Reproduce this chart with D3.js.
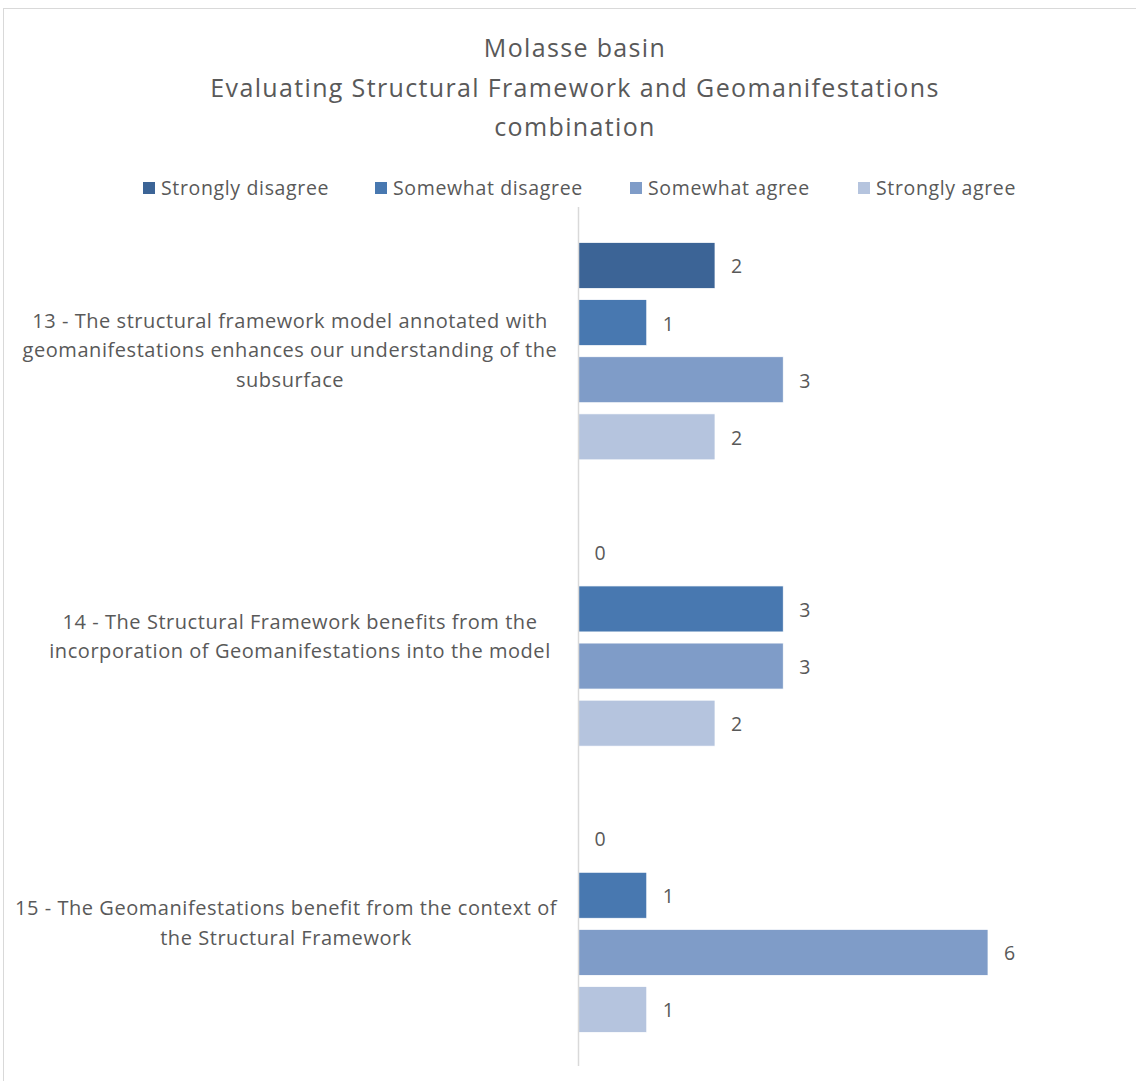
<!DOCTYPE html>
<html>
<head>
<meta charset="utf-8">
<script src="https://cdn.jsdelivr.net/npm/d3@7"></script>
<style>
  html, body { margin: 0; padding: 0; background: #fff; }
  svg { display: block; }
  text { font-family: "Open Sans", Lato, sans-serif; fill: #595959; }
</style>
</head>
<body>
<svg id="chart" width="1136" height="1081"></svg>
<script>
// Survey questions (one group of bars each)
const categories = [
  "13 - The structural framework model annotated with geomanifestations enhances our understanding of the subsurface",
  "14 - The Structural Framework benefits from the incorporation of Geomanifestations into the model",
  "15 - The Geomanifestations benefit from the context of the Structural Framework"
];
// Wrapped lines of each question label
const categoryLines = [
  ["13 - The structural framework model annotated with", "geomanifestations enhances our understanding of the", "subsurface"],
  ["14 - The Structural Framework benefits from the", "incorporation of Geomanifestations into the model"],
  ["15 - The Geomanifestations benefit from the context of", "the Structural Framework"]
];
// Answer options (series)
const seriesNames = ["Strongly disagree", "Somewhat disagree", "Somewhat agree", "Strongly agree"];
const seriesColors = ["#3c6496", "#4878b0", "#7f9cc8", "#b5c4de"];
// Response counts per series, in category order
const stronglyDisagree = [2, 0, 0];
const somewhatDisagree = [1, 3, 1];
const somewhatAgree = [3, 3, 6];
const stronglyAgree = [2, 2, 1];
const seriesValues = [stronglyDisagree, somewhatDisagree, somewhatAgree, stronglyAgree];

const titleLines = ["Molasse basin", "Evaluating Structural Framework and Geomanifestations", "combination"];

const svg = d3.select("#chart");

// chart frame
svg.append("rect")
  .attr("x", 3.5).attr("y", 8.5)
  .attr("width", 1140).attr("height", 1090)
  .attr("fill", "none").attr("stroke", "#d9d9d9").attr("stroke-width", 1);

// title
svg.append("g").selectAll("text").data(titleLines).join("text")
  .attr("x", 575).attr("y", (d, i) => 57 + i * 39.5)
  .attr("text-anchor", "middle")
  .style("font-size", "25px")
  .style("letter-spacing", "1.35px")
  .text(d => d);

// plot area
const plotTop = 207, plotBottom = 1066, axisX = 578.5;
const x = d3.scaleLinear().domain([0, 6]).range([axisX, axisX + 409.5]);
const y0 = d3.scaleBand().domain(categories).range([plotTop, plotBottom]).paddingInner(0).paddingOuter(0);
const y1 = d3.scaleBand().domain(seriesNames).range([35.5, y0.bandwidth() - 33.5]).paddingInner(0.195).paddingOuter(0);

// legend
const legendX = [143, 375, 630, 858];
const legend = svg.append("g").selectAll("g").data(seriesNames).join("g")
  .attr("transform", (d, i) => `translate(${legendX[i]},188)`);
legend.append("rect").attr("x", 0).attr("y", -6).attr("width", 12).attr("height", 12)
  .attr("fill", (d, i) => seriesColors[i]);
legend.append("text").attr("x", 18).attr("y", 7)
  .style("font-size", "19.5px")
  .style("letter-spacing", "0.65px")
  .text(d => d);

// bars and value labels
const groups = svg.append("g").selectAll("g").data(categories).join("g")
  .attr("transform", d => `translate(0,${y0(d)})`);

groups.each(function(cat, ci) {
  const g = d3.select(this);
  const rows = seriesNames.map((s, si) => ({ s, si, v: seriesValues[si][ci] }));
  g.selectAll("rect").data(rows).join("rect")
    .attr("x", x(0))
    .attr("y", d => y1(d.s))
    .attr("width", d => x(d.v) - x(0))
    .attr("height", y1.bandwidth())
    .attr("fill", d => seriesColors[d.si])
    .attr("stroke", "#fff").attr("stroke-width", 0.75);
  g.selectAll("text.val").data(rows).join("text")
    .attr("class", "val")
    .attr("x", d => x(d.v) + 16)
    .attr("y", d => y1(d.s) + y1.bandwidth() / 2 + 8)
    .style("font-size", "19.5px")
    .text(d => d.v);
});

// category axis line
svg.append("line")
  .attr("x1", axisX).attr("x2", axisX)
  .attr("y1", plotTop).attr("y2", plotBottom)
  .attr("stroke", "#d9d9d9").attr("stroke-width", 1.5);

// category labels
const labelCenters = [290, 300, 286];
groups.each(function(cat, ci) {
  const lines = categoryLines[ci];
  const mid = y0.bandwidth() / 2;
  const lh = 29.5;
  d3.select(this).selectAll("text.cat").data(lines).join("text")
    .attr("class", "cat")
    .attr("x", labelCenters[ci])
    .attr("y", (d, i) => mid + (i - (lines.length - 1) / 2) * lh + 7)
    .attr("text-anchor", "middle")
    .style("font-size", "20px")
    .style("letter-spacing", "0.55px")
    .text(d => d);
});
</script>
</body>
</html>
